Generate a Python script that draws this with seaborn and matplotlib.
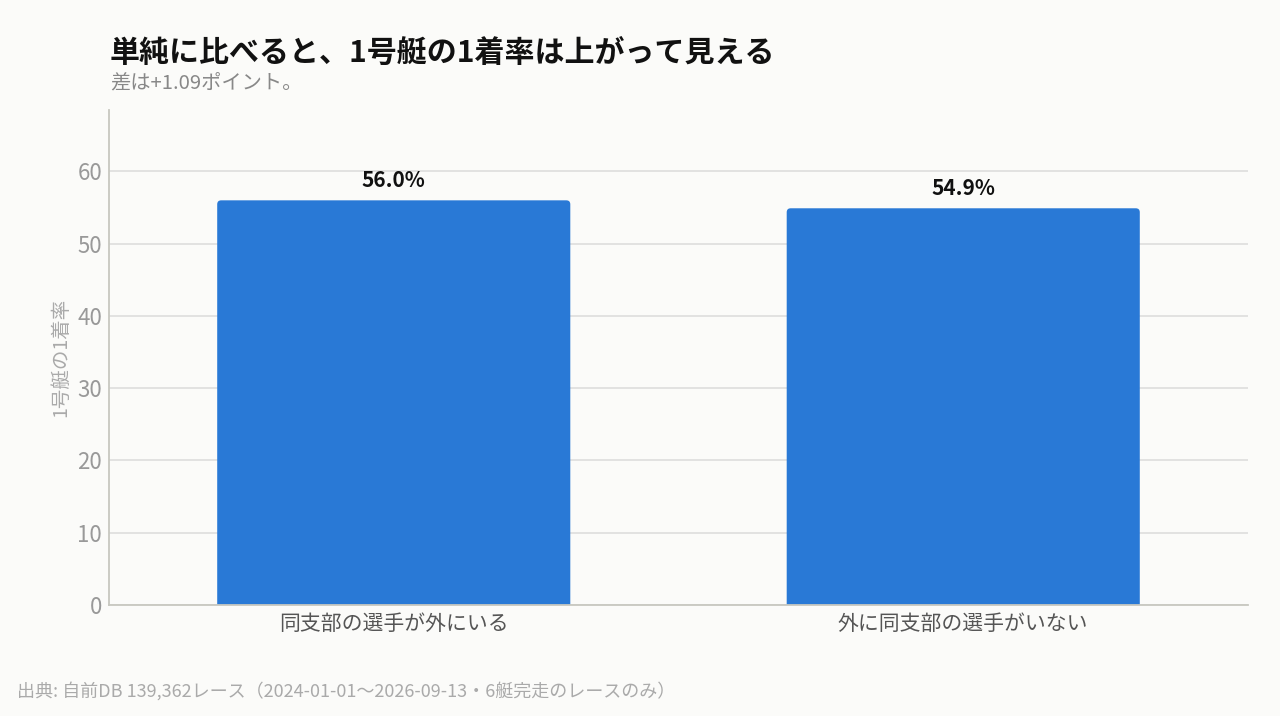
import matplotlib
matplotlib.use("Agg")
import matplotlib.pyplot as plt
from matplotlib.patches import FancyBboxPatch
import seaborn as sns
import pandas as pd

# data
groups = ["同支部の選手が外にいる", "外に同支部の選手がいない"]
win_rate = [56.0, 54.9]
bar_labels = ["56.0%", "54.9%"]
yticks = [0, 10, 20, 30, 40, 50, 60]

title = "単純に比べると、1号艇の1着率は上がって見える"
subtitle = "差は+1.09ポイント。"
ylabel = "1号艇の1着率"
source = "出典: 自前DB 139,362レース（2024-01-01～2026-09-13・6艇完走のレースのみ）"

bg = "#fbfbf9"
blue = "#2979d6"
grey = "#999999"

sns.set_theme(style="whitegrid")
plt.rcParams['font.family'] = ['Noto Sans CJK JP', 'DejaVu Sans']

df = pd.DataFrame({"group": groups, "rate": win_rate})

fig = plt.figure(figsize=(12.8, 7.16), dpi=100, facecolor=bg)
ax = fig.add_axes([109/1280, 1 - 605/716, 1139/1280, 495/716])
ax.set_facecolor(bg)

sns.barplot(data=df, x="group", y="rate", color=blue, width=0.62,
            saturation=1, linewidth=0, ax=ax, zorder=3)
ax.set_ylim(0, 68.5)
ax.set_xlim(-0.5, 1.5)

# swap the square bars for ones with slightly rounded tops
for p, lab in zip(list(ax.patches), bar_labels):
    x0, w, h = p.get_x(), p.get_width(), p.get_height()
    p.set_visible(False)
    rb = FancyBboxPatch((x0, -2), w, h + 2,
                        boxstyle="round,pad=0,rounding_size=0.007",
                        mutation_aspect=79, facecolor=blue, edgecolor="none",
                        zorder=3, clip_on=True)
    ax.add_patch(rb)
    ax.text(x0 + w/2, h + 1.3, lab, ha="center", va="bottom", fontsize=15,
            fontweight="bold", color="#111111")

ax.set_yticks(yticks)
ax.grid(axis="y", color="#dddddd", linewidth=1.2, zorder=0)
ax.grid(axis="x", visible=False)
for s in ["top", "right"]:
    ax.spines[s].set_visible(False)
for s in ["left", "bottom"]:
    ax.spines[s].set_color("#c8c8c0")
    ax.spines[s].set_linewidth(1.3)
    ax.spines[s].set_zorder(4)

ax.tick_params(axis="y", labelsize=16, labelcolor=grey, length=0, pad=5)
ax.tick_params(axis="x", labelsize=15, labelcolor="#555555", length=0, pad=6)
ax.set_xlabel("")
ax.set_ylabel(ylabel, fontsize=14, color="#aaaaaa", labelpad=4)

fig.text(110/1280, 1 - 53/716, title, fontsize=21.6, fontweight="bold",
         color="#111111", va="center", ha="left")
fig.text(110/1280, 1 - 83/716, subtitle, fontsize=14.6, color="#888888",
         va="center", ha="left")
fig.text(17/1280, 1 - 691/716, source, fontsize=13, color="#aaaaaa",
         va="center", ha="left")

fig.savefig("out.png", dpi=100, facecolor=bg)
